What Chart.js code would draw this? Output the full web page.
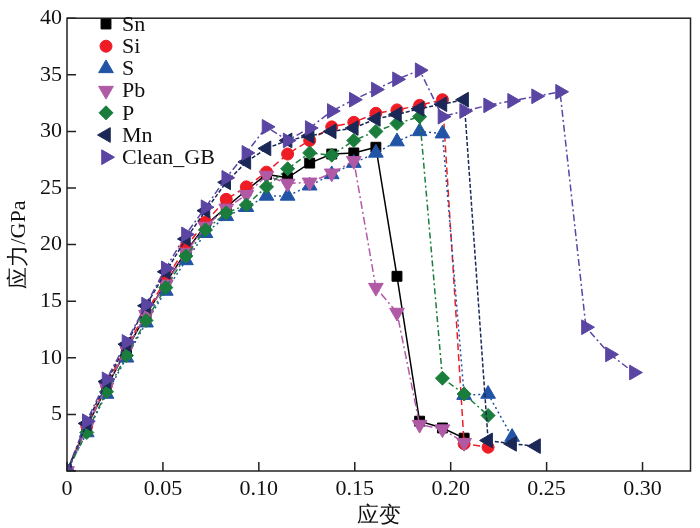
<!DOCTYPE html>
<html>
<head>
<meta charset="utf-8">
<script src="https://cdn.jsdelivr.net/npm/chart.js@4.4.0/dist/chart.umd.min.js"></script>
<style>
  html, body { margin: 0; padding: 0; background: #fff; }
  #wrap { width: 700px; height: 528px; }
</style>
</head>
<body>
<div id="wrap"><canvas id="myChart"></canvas></div>
<script>
    // strain steps shared by all curves (each curve uses the first N of them)
    let strain = [0, 0.0103, 0.0206, 0.031, 0.0412, 0.0515, 0.062, 0.0722, 0.083, 0.0935,
        0.104, 0.115, 0.1265, 0.138, 0.1495, 0.161, 0.172, 0.1838, 0.1957, 0.207,
        0.2195, 0.232, 0.2445, 0.257, 0.2705, 0.283, 0.2955];

    let snStress = [0, 3.9, 7.4, 10.7, 13.8, 16.6, 19.4, 21.7, 23.3, 24.8, 26.2, 25.9, 27.2, 28.0, 28.1, 28.6, 17.2, 4.4, 3.8, 2.9];
    let siStress = [0, 4.0, 7.6, 11.0, 14.0, 16.9, 19.8, 22.0, 24.0, 25.1, 26.4, 28.0, 29.2, 30.4, 30.8, 31.6, 31.9, 32.3, 32.8, 2.4, 2.1];
    let sStress = [0, 3.4, 6.8, 10.0, 13.1, 15.9, 18.6, 21.0, 22.5, 23.3, 24.3, 24.3, 25.2, 26.2, 27.2, 28.1, 29.1, 30.0, 29.8, 6.7, 6.8, 3.0];
    let pbStress = [0, 3.9, 7.4, 10.8, 13.8, 16.5, 19.3, 21.6, 23.2, 24.4, 26.1, 25.4, 25.5, 26.3, 27.4, 16.2, 14.0, 4.1, 3.7, 2.5];
    let pStress = [0, 3.4, 7.0, 10.2, 13.3, 16.2, 19.0, 21.3, 22.8, 23.5, 25.1, 26.7, 28.1, 27.9, 29.2, 30.0, 30.7, 31.3, 8.2, 6.8, 4.9];
    let mnStress = [0, 4.2, 7.9, 11.2, 14.6, 17.6, 20.5, 23.0, 25.5, 27.3, 28.5, 29.2, 29.6, 30.0, 30.3, 31.1, 31.5, 32.0, 32.4, 32.8, 2.7, 2.4, 2.2];
    let cleanStress = [0, 4.4, 8.1, 11.4, 14.7, 17.9, 20.9, 23.3, 25.9, 28.1, 30.4, 29.2, 30.3, 31.8, 32.8, 33.7, 34.6, 35.4, 31.3, 31.8, 32.3, 32.7, 33.1, 33.5, 12.7, 10.3, 8.7];

    let xTicks = [0, 0.05, 0.10, 0.15, 0.20, 0.25, 0.30];

    // Latin glyphs from a Times-like face, CJK falls through to the system fallback
    const serif = "'Liberation Serif', 'DejaVu Serif', serif";

    function toPoints(ys) {
        return ys.map((y, i) => ({x: strain[i], y: y}));
    }

    function series(label, ys, color, style, rot, r, dash, order) {
        return {
            label: label,
            data: toPoints(ys),
            borderColor: color,
            backgroundColor: color,
            borderWidth: 1.5,
            borderDash: dash,
            pointStyle: style,
            pointRotation: rot,
            pointRadius: r,
            pointBorderWidth: 1,
            pointBackgroundColor: color,
            pointBorderColor: color,
            tension: 0,
            fill: false,
            order: order
        };
    }

    let datasets = [
        series('Sn', snStress, '#000000', 'rect', 0, 7, [], 7),
        series('Si', siStress, '#ee1c25', 'circle', 0, 6, [7, 4], 6),
        series('S', sStress, '#2254a6', 'triangle', 0, 8.5, [2, 3], 5),
        series('Pb', pbStress, '#b05aa6', 'triangle', 180, 8.5, [8, 3, 2, 3], 4),
        series('P', pStress, '#1b7d3c', 'rectRot', 0, 7, [6, 3, 2, 3], 3),
        series('Mn', mnStress, '#1b2857', 'triangle', -90, 8.5, [4, 2], 2),
        series('Clean_GB', cleanStress, '#5b45a3', 'triangle', 90, 8.5, [7, 3, 2, 3], 1)
    ];

    // box around the plot, inward ticks and an inside legend
    const framePlugin = {
        id: 'framePlugin',
        afterDraw(chart) {
            const ctx = chart.ctx;
            const a = chart.chartArea;
            const xs = chart.scales.x, ys = chart.scales.y;
            ctx.save();
            ctx.strokeStyle = '#222';
            ctx.lineWidth = 1.5;
            ctx.strokeRect(a.left, a.top, a.right - a.left, a.bottom - a.top);
            ctx.beginPath();
            xs.ticks.forEach(t => {
                let px = xs.getPixelForValue(t.value);
                ctx.moveTo(px, a.bottom);
                ctx.lineTo(px, a.bottom - 9);
            });
            ys.ticks.forEach(t => {
                let py = ys.getPixelForValue(t.value);
                ctx.moveTo(a.left, py);
                ctx.lineTo(a.left + 9, py);
            });
            ctx.stroke();

            ctx.font = '22px ' + serif;
            ctx.textBaseline = 'middle';
            ctx.textAlign = 'left';
            datasets.forEach((d, i) => {
                let cy = 24 + i * 22.2;
                ctx.fillStyle = d.backgroundColor;
                ctx.strokeStyle = d.borderColor;
                ctx.lineWidth = 1;
                ctx.setLineDash([]);
                Chart.helpers.drawPoint(ctx, {
                    pointStyle: d.pointStyle,
                    rotation: d.pointRotation,
                    radius: d.pointRadius,
                    borderWidth: 1
                }, 106, cy);
                ctx.fillStyle = '#111';
                ctx.fillText(d.label, 122, cy + 1);
            });
            ctx.restore();
        }
    };

    let ctx = document.getElementById('myChart').getContext('2d');
    let myChart = new Chart(ctx, {
        type: 'line',
        data: {datasets: datasets},
        options: {
            responsive: true,
            maintainAspectRatio: false,
            animation: false,
            layout: {padding: {top: 10, right: 1, left: 0, bottom: 0}},
            plugins: {
                legend: {display: false},
                tooltip: {enabled: false}
            },
            scales: {
                x: {
                    type: 'linear',
                    min: 0,
                    max: 0.325,
                    afterFit: s => { s.height = 57; },
                    afterBuildTicks: s => { s.ticks = xTicks.map(v => ({value: v})); },
                    grid: {display: false, drawTicks: false},
                    border: {display: false},
                    ticks: {
                        autoSkip: false,
                        maxRotation: 0,
                        padding: 5,
                        color: '#111',
                        font: {family: serif, size: 22},
                        callback: v => v === 0 ? '0' : v.toFixed(2)
                    },
                    title: {
                        display: true,
                        text: '应变',
                        color: '#111',
                        font: {family: serif, size: 22, lineHeight: 1},
                        padding: {top: 0, bottom: 1}
                    }
                },
                y: {
                    type: 'linear',
                    min: 0,
                    max: 40,
                    afterFit: s => { s.width = 67; },
                    grid: {display: false, drawTicks: false},
                    border: {display: false},
                    ticks: {
                        stepSize: 5,
                        padding: 5,
                        color: '#111',
                        font: {family: serif, size: 22},
                        callback: v => v === 0 ? '' : v
                    },
                    title: {
                        display: true,
                        text: '应力/GPa',
                        color: '#111',
                        font: {family: serif, size: 22, lineHeight: 1},
                        padding: {top: 8, bottom: 0}
                    }
                }
            }
        },
        plugins: [framePlugin]
    });
</script>
</body>
</html>
